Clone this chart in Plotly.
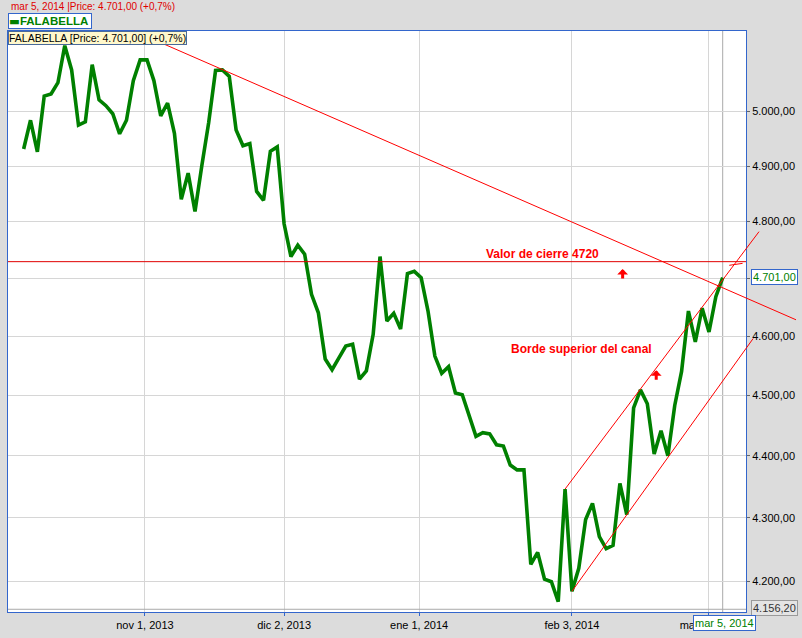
import math
import plotly.graph_objects as go

# ---------------- data ----------------
price = [4931, 4984, 4926, 5029, 5033, 5054, 5124, 5078, 4975, 4981,
         5088, 5022, 5011, 4996, 4959, 4984, 5058, 5097, 5097, 5058,
         4992, 5016, 4960, 4840, 4887, 4818, 4901, 4980, 5077, 5078,
         5066, 4966, 4937, 4941, 4854, 4838, 4927, 4935, 4796, 4738,
         4758, 4742, 4672, 4640, 4561, 4543, 4563, 4583, 4586, 4527,
         4541, 4603, 4738, 4626, 4639, 4612, 4708, 4712, 4701, 4643,
         4566, 4537, 4548, 4504, 4501, 4468, 4432, 4438, 4436, 4418,
         4416, 4385, 4377, 4377, 4226, 4245, 4203, 4199, 4168, 4346,
         4184, 4220, 4297, 4323, 4270, 4251, 4256, 4355, 4305, 4479,
         4509, 4486, 4403, 4441, 4400, 4483, 4540, 4643, 4590, 4648,
         4607, 4668, 4701]
session = list(range(len(price)))          # trading-session index

date_tick_pos = [17.7, 38, 57.7, 80, 100]
date_tick_labels = ['nov 1, 2013', 'dic 2, 2013', 'ene 1, 2014', 'feb 3, 2014', 'mar 3, 2014']

price_ticks = [4200, 4300, 4400, 4500, 4600, 4700, 4800, 4900, 5000]
price_tick_labels = ['4.200,00', '4.300,00', '4.400,00', '4.500,00', '4.600,00', '',
                     '4.800,00', '4.900,00', '5.000,00']

# drawn trend lines (session index, price)
resistance_x = [16.1, 112.7]
resistance_y = [5152, 4628]
channel_upper_x = [79, 107.3]
channel_upper_y = [4346, 4782]
channel_lower_x = [80, 106.45]
channel_lower_y = [4184, 4596]
hook_x = [102.96, 104.9]
hook_y = [4722.6, 4726]
close_level = 4729
arrow_x = [87.4, 92.3]
arrow_y = [4716, 4542]
last_session = 102
last_price = 4701.00
axis_min = 4156.20

# ---------------- layout geometry ----------------
W, H = 802, 638
L, R, T, B = 7, 55, 31, 22
PW, PH = W - L - R, H - T - B
XR = [-2.285, 105.4]
YR = [math.log10(4152), math.log10(5152)]

def dx(i):
    return (i - XR[0]) / (XR[1] - XR[0])

def dy(v):
    return (math.log10(v) - YR[0]) / (YR[1] - YR[0])

def px(x):
    return (x - L) / PW

def py(y):
    return (H - B - y) / PH

RED = '#ff0000'
GREEN = '#008000'
BLUE = '#3366cc'
FONT = 'Liberation Sans, Arial, sans-serif'

fig = go.Figure()
fig.add_trace(go.Scatter(x=session, y=price, mode='lines', name='FALABELLA',
                         line=dict(color=GREEN, width=3.6), hoverinfo='skip'))

shapes = []
def seg(xs, ys, color=RED, width=1):
    shapes.append(dict(type='line', xref='paper', yref='paper',
                       x0=dx(xs[0]), y0=dy(ys[0]), x1=dx(xs[1]), y1=dy(ys[1]),
                       line=dict(color=color, width=width), layer='above'))

# crosshair lines
shapes.append(dict(type='line', xref='paper', yref='paper', x0=dx(last_session), x1=dx(last_session),
                   y0=0, y1=1, line=dict(color='#a9a9a9', width=1), layer='below'))
shapes.append(dict(type='line', xref='paper', yref='paper', x0=0, x1=1,
                   y0=dy(axis_min), y1=dy(axis_min), line=dict(color='#a9a9a9', width=1), layer='above'))
# close level
shapes.append(dict(type='line', xref='paper', yref='paper', x0=0, x1=1,
                   y0=dy(close_level), y1=dy(close_level), line=dict(color='#e00000', width=1), layer='above'))
seg(resistance_x, resistance_y)
seg(channel_upper_x, channel_upper_y)
seg(channel_lower_x, channel_lower_y)
seg(hook_x, hook_y)

ann = []
def box(text, x, y, xanchor='center', color='black', size=11, bg=None, border=None, pad=1, bold=False):
    a = dict(text=('<b>%s</b>' % text) if bold else text, xref='paper', yref='paper',
             x=px(x), y=py(y), xanchor=xanchor, yanchor='middle', showarrow=False,
             font=dict(family=FONT, size=size, color=color), borderpad=pad)
    if bg:
        a['bgcolor'] = bg
    if border:
        a['bordercolor'] = border
        a['borderwidth'] = 1
    ann.append(a)

box('mar 5, 2014 |Price: 4.701,00 (+0,7%)', 8, 6.5, xanchor='left', color='#e00000', size=10)
ann.append(dict(text='<span style="font-family:DejaVu Sans">▬</span><b>FALABELLA</b> ',
                xref='paper', yref='paper', x=px(7.5), y=py(21), xanchor='left', yanchor='middle',
                showarrow=False, font=dict(family=FONT, size=11.5, color=GREEN),
                bgcolor='white', bordercolor=BLUE, borderwidth=1, borderpad=0))
box('FALABELLA [Price: 4.701,00] (+0,7%)', 7.5, 38, xanchor='left', size=10.5,
    bg='#fff8cc', border='#4a6a9a', pad=0)
box('Valor de cierre 4720', 542.5, 255.5, color=RED, size=12, bold=True)
box('Borde superior del canal', 582, 351, color=RED, size=12, bold=True)
box('4.701,00', 776, 279, color=GREEN, bg='white', border=BLUE)
box('4.156,20', 776, 612, color='#333333', bg='#e4e4e4', border='#9a9a9a')
box('mar 5, 2014', 725, 627.5, color=GREEN, bg='white', border=BLUE)

for ax_, ay_ in zip(arrow_x, arrow_y):
    ann.append(dict(text='', xref='paper', yref='paper', x=dx(ax_), y=dy(ay_),
                    showarrow=True, ax=0, ay=11, arrowhead=1, arrowsize=0.6,
                    arrowwidth=3, arrowcolor=RED))

fig.update_layout(
    width=W, height=H, autosize=False,
    margin=dict(l=L, r=R, t=T, b=B, pad=0),
    paper_bgcolor='#dcdcdc', plot_bgcolor='white',
    showlegend=False,
    font=dict(family=FONT, size=11, color='black'),
    shapes=shapes, annotations=ann,
    xaxis=dict(range=XR, tickmode='array', tickvals=date_tick_pos, ticktext=date_tick_labels,
               showgrid=True, gridcolor='#d6d6d6', gridwidth=1, zeroline=False,
               ticks='outside', ticklen=3, tickcolor=BLUE,
               showline=True, linecolor=BLUE, linewidth=1, mirror=True,
               tickfont=dict(family=FONT, size=11, color='black')),
    yaxis=dict(type='log', side='right', range=YR, tickmode='array',
               tickvals=price_ticks, ticktext=price_tick_labels,
               showgrid=True, gridcolor='#d6d6d6', gridwidth=1, zeroline=False,
               ticks='outside', ticklen=3, tickcolor='#666666',
               showline=True, linecolor=BLUE, linewidth=1, mirror=True,
               tickfont=dict(family=FONT, size=11, color='black')),
)

fig.write_html('out.html', config={'displayModeBar': False},
               post_script="document.body.style.margin='0px';document.body.style.background='#dcdcdc';")
